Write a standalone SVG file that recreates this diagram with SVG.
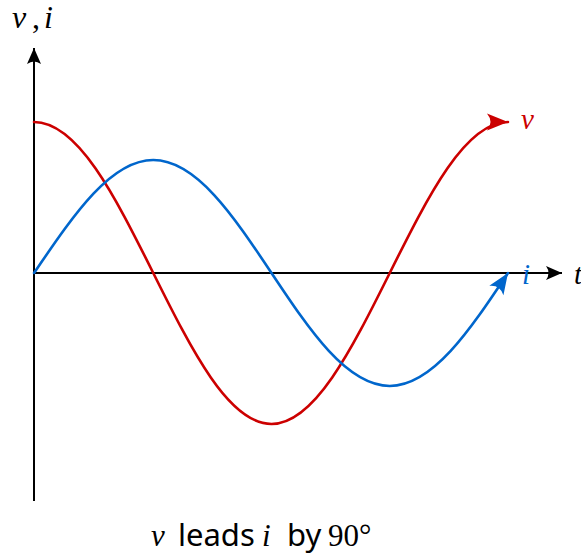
<svg xmlns="http://www.w3.org/2000/svg" width="581" height="556" viewBox="0 0 581 556">
<style>
.axis{stroke:#000;stroke-width:2;fill:none}
.wave{fill:none;stroke-width:2.6;stroke-linecap:round}
.math{font-family:"Liberation Serif","DejaVu Serif",serif;font-style:italic}
.rm{font-family:"Liberation Serif","DejaVu Serif",serif}
.sans{font-family:"Noto Sans","Open Sans",sans-serif}
</style>
<defs>
<marker id="ax" markerUnits="userSpaceOnUse" markerWidth="20" markerHeight="16" viewBox="-17 -8 18 16" refX="0" refY="0" orient="auto">
<path d="M0,0 L-16,-7 Q-11,0 -16,7 Z" fill="#000"/>
</marker>
<marker id="ar" markerUnits="userSpaceOnUse" markerWidth="24" markerHeight="20" viewBox="-22 -10 23 20" refX="0" refY="0" orient="auto">
<path d="M0,0 L-21,-8.5 Q-14,0 -21,8.5 Z" fill="#cc0000"/>
</marker>
<marker id="ab" markerUnits="userSpaceOnUse" markerWidth="24" markerHeight="20" viewBox="-22 -10 23 20" refX="0" refY="0" orient="auto">
<path d="M0,0 L-21,-8.5 Q-14,0 -21,8.5 Z" fill="#0066cc"/>
</marker>
</defs>
<g id="axes">
<line class="axis" x1="34" y1="501" x2="34" y2="48" marker-end="url(#ax)"/>
<line class="axis" x1="34" y1="273" x2="562" y2="273" marker-end="url(#ax)"/>
</g>
<g id="connectors">
<path id="v-wave" class="wave" stroke="#cc0000" marker-end="url(#ar)" d="M34,122 C77.8,122 114.68,195.64 153.25,273 C191.82,350.36 228.7,424 271.5,424 C314.3,424 351.18,350.36 389.75,273 C428.32,195.64 465.2,122 508,122"/>
<path id="i-wave" class="wave" stroke="#0066cc" marker-end="url(#ab)" d="M34,273 C73.57,215.11 110.45,160 153.25,160 C196.05,160 232.93,215.11 271.5,273 C310.07,330.89 346.95,386 389.75,386 C432.55,386 469.43,330.89 508,273"/>
</g>
<g id="labels">
<text y="28" font-size="32"><tspan class="math" x="12">v</tspan><tspan class="rm" x="32">,</tspan><tspan class="math" x="44">i</tspan></text>
<text class="math" x="521" y="129" font-size="29" fill="#cc0000">v</text>
<text class="math" x="522" y="284" font-size="29" fill="#0066cc">i</text>
<text class="math" x="574" y="284" font-size="29">t</text>
<text y="546" font-size="31"><tspan class="math" x="151">v</tspan><tspan class="sans" x="178">leads</tspan><tspan class="math" x="262">i</tspan><tspan class="sans" x="287">by</tspan><tspan class="rm" x="328">90°</tspan></text>
</g>
</svg>
